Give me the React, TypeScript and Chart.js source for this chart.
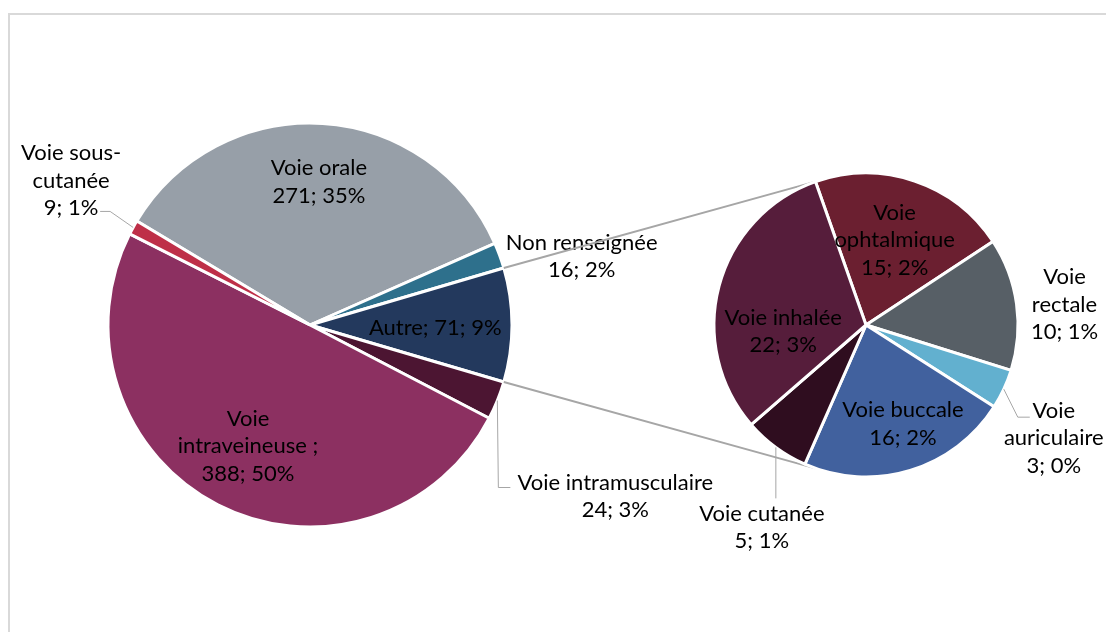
import React, { useEffect, useRef } from "react";
import { Chart, registerables } from "chart.js";
Chart.register(...registerables);

// ---------- data ----------
const mainCategories = ["Voie orale", "Non renseignée", "Autre", "Voie intramusculaire", "Voie intraveineuse", "Voie sous-cutanée"];
const mainValues = [271, 16, 71, 24, 388, 9];
const mainColors = ["#979FA8", "#2E708C", "#23395D", "#4C1532", "#8C3061", "#BE2F48"];

const subCategories = ["Voie ophtalmique", "Voie rectale", "Voie auriculaire", "Voie buccale", "Voie cutanée", "Voie inhalée"];
const subValues = [15, 10, 3, 16, 5, 22];
const subColors = ["#6B1F30", "#575F66", "#62B0CF", "#41619E", "#2F0D1F", "#561D3B"];

// how each category name wraps in its label
const mainNameLines = [["Voie orale"], ["Non renseignée"], ["Autre"], ["Voie intramusculaire"], ["Voie", "intraveineuse ;"], ["Voie sous-", "cutanée"]];
const subNameLines = [["Voie", "ophtalmique"], ["Voie", "rectale"], ["Voie", "auriculaire"], ["Voie buccale"], ["Voie cutanée"], ["Voie inhalée"]];

const OTHER_INDEX = 2;
const TOTAL = mainValues.reduce((a, b) => a + b, 0);

// ---------- styles ----------
const FONT = "22px Lato";
const LINE_H = 27.5;
const GRAY = "#A6A6A6";

type Spec = { f: number; dx: number; dy: number; inline?: boolean; leader?: number[][] };

const mainSpecs: Spec[] = [
  { f: 0.71, dx: 0, dy: 0 },
  { f: 1.0, dx: 82, dy: 1 },
  { f: 0.62, dx: 0, dy: 3, inline: true },
  { f: 1.0, dx: 118, dy: 96, leader: [[-117, -9], [-105, -9]] },
  { f: 0.673, dx: 0, dy: 0 },
  { f: 1.0, dx: -62, dy: -47, leader: [[39, 31], [29, 31]] },
];
const subSpecs: Spec[] = [
  { f: 0.59, dx: 0, dy: 0 },
  { f: 1.0, dx: 48, dy: 1 },
  { f: 1.0, dx: 50, dy: 49, leader: [[-36, -21], [-24, -21]] },
  { f: 0.68, dx: 7, dy: 0 },
  { f: 1.0, dx: -14, dy: 80, leader: [[14, -29]] },
  { f: 0.55, dx: -2, dy: 28 },
];

const SUB_ROTATION = -19.4;

function valueText(v: number) {
  return `${v}; ${Math.round((v / TOTAL) * 100)}%`;
}

function drawLabels(chart: any, specs: Spec[], names: string[][], values: number[]) {
  const ctx = chart.ctx as CanvasRenderingContext2D;
  const meta = chart.getDatasetMeta(0);
  ctx.save();
  ctx.font = FONT;
  ctx.fillStyle = "#000";
  ctx.textAlign = "center";
  ctx.textBaseline = "middle";
  meta.data.forEach((arc: any, i: number) => {
    const p = arc.getProps(["x", "y", "startAngle", "endAngle", "outerRadius"], true);
    const mid = (p.startAngle + p.endAngle) / 2;
    const s = specs[i];
    const cx = p.x + Math.cos(mid) * p.outerRadius * s.f + s.dx;
    const cy = p.y + Math.sin(mid) * p.outerRadius * s.f + s.dy;
    if (s.leader) {
      ctx.beginPath();
      ctx.strokeStyle = GRAY;
      ctx.lineWidth = 1;
      ctx.moveTo(p.x + Math.cos(mid) * p.outerRadius, p.y + Math.sin(mid) * p.outerRadius);
      s.leader.forEach(([lx, ly]) => ctx.lineTo(cx + lx, cy + ly));
      ctx.stroke();
    }
    const lines = s.inline
      ? [`${names[i].join(" ")}; ${valueText(values[i])}`]
      : [...names[i], valueText(values[i])];
    const y0 = cy - ((lines.length - 1) * LINE_H) / 2;
    lines.forEach((t, k) => ctx.fillText(t, cx, y0 + k * LINE_H));
  });
  ctx.restore();
}

export default function App() {
  const ref1 = useRef<HTMLCanvasElement>(null);
  const ref2 = useRef<HTMLCanvasElement>(null);

  useEffect(() => {
    const before = mainValues.slice(0, OTHER_INDEX).reduce((a, b) => a + b, 0) + mainValues[OTHER_INDEX] / 2;
    const mainRotation = 90 - (before / TOTAL) * 360;

    const c1 = new Chart(ref1.current!, {
      type: "pie",
      data: {
        labels: mainCategories,
        datasets: [{ data: mainValues, backgroundColor: mainColors, borderColor: "#fff", borderWidth: 3 }],
      },
      options: {
        responsive: false,
        animation: false,
        devicePixelRatio: 1,
        rotation: mainRotation,
        radius: 202,
        layout: { padding: { left: 100, right: 586, top: 115, bottom: 97 } },
        plugins: { legend: { display: false }, tooltip: { enabled: false } },
      },
      plugins: [
        {
          id: "mainLabels",
          afterDatasetsDraw(chart: any) {
            drawLabels(chart, mainSpecs, mainNameLines, mainValues);
          },
        },
      ],
    } as any);

    const c2 = new Chart(ref2.current!, {
      type: "pie",
      data: {
        labels: subCategories,
        datasets: [{ data: subValues, backgroundColor: subColors, borderColor: "#fff", borderWidth: 3 }],
      },
      options: {
        responsive: false,
        animation: false,
        devicePixelRatio: 1,
        rotation: SUB_ROTATION,
        radius: 152,
        layout: { padding: { left: 706, right: 80, top: 165, bottom: 147 } },
        plugins: { legend: { display: false }, tooltip: { enabled: false } },
      },
      plugins: [
        {
          id: "connectors",
          beforeDatasetsDraw(chart: any) {
            const ctx = chart.ctx as CanvasRenderingContext2D;
            const other = c1.getDatasetMeta(0).data[OTHER_INDEX] as any;
            const o = other.getProps(["x", "y", "startAngle", "endAngle", "outerRadius"], true);
            const first = chart.getDatasetMeta(0).data[0] as any;
            const s = first.getProps(["x", "y", "startAngle", "outerRadius"], true);
            const top = s.startAngle;
            const bottom = -s.startAngle;
            ctx.save();
            ctx.strokeStyle = GRAY;
            ctx.lineWidth = 2;
            ctx.beginPath();
            ctx.moveTo(o.x + Math.cos(o.startAngle) * o.outerRadius, o.y + Math.sin(o.startAngle) * o.outerRadius);
            ctx.lineTo(s.x + Math.cos(top) * s.outerRadius, s.y + Math.sin(top) * s.outerRadius);
            ctx.moveTo(o.x + Math.cos(o.endAngle) * o.outerRadius, o.y + Math.sin(o.endAngle) * o.outerRadius);
            ctx.lineTo(s.x + Math.cos(bottom) * s.outerRadius, s.y + Math.sin(bottom) * s.outerRadius);
            ctx.stroke();
            ctx.restore();
          },
          afterDatasetsDraw(chart: any) {
            drawLabels(chart, subSpecs, subNameLines, subValues);
          },
        },
      ],
    } as any);

    return () => {
      c2.destroy();
      c1.destroy();
    };
  }, []);

  return (
    <div style={{ position: "fixed", left: 0, top: 0, width: 1106, height: 632, background: "#fff", overflow: "hidden" }}>
      <div style={{ position: "absolute", left: 8, top: 13, width: 1200, height: 700, border: "2px solid #D9D9D9" }} />
      <canvas ref={ref1} width={1106} height={632} style={{ position: "absolute", left: 0, top: 0 }} />
      <canvas ref={ref2} width={1106} height={632} style={{ position: "absolute", left: 0, top: 0 }} />
    </div>
  );
}
